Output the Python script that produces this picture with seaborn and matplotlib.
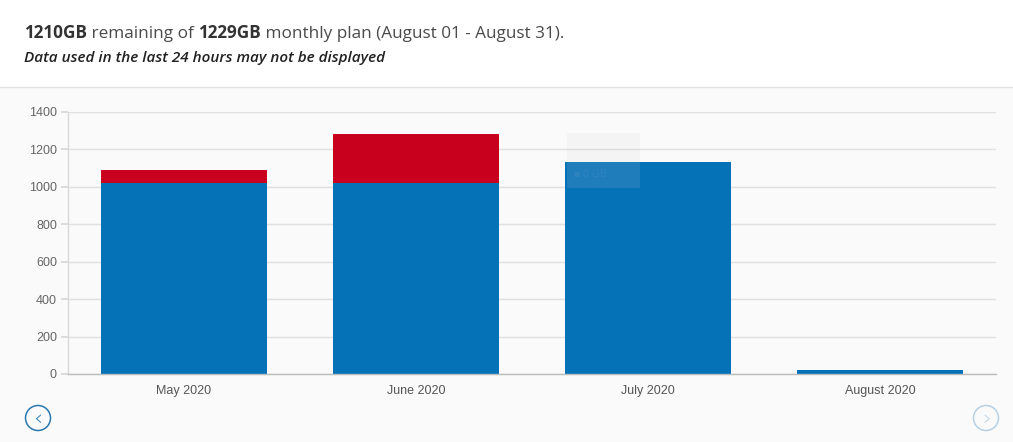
import matplotlib
matplotlib.use("Agg")
import matplotlib.pyplot as plt
import seaborn as sns
import pandas as pd
from matplotlib.patches import Rectangle, Circle
from matplotlib.lines import Line2D

months = ["May 2020", "June 2020", "July 2020", "August 2020"]
within_plan = [1021, 1021, 1133, 19]
overage = [69, 262, 0, 0]
y_ticks = [0, 200, 400, 600, 800, 1000, 1200, 1400]
title_parts = [("1210GB", "bold"), (" remaining of ", "normal"), ("1229GB", "bold"),
               (" monthly plan (August 01 - August 31).", "normal")]
subtitle = "Data used in the last 24 hours may not be displayed"

BLUE = "#0572b8"
RED = "#c8001e"

sns.set_theme(style="white")
plt.rcParams["font.family"] = ["Liberation Sans", "DejaVu Sans"]

W, H = 1013, 442
fig = plt.figure(figsize=(W / 100, H / 100), dpi=100)
fig.patch.set_facecolor("white")
# gray panel
fig.patches.append(Rectangle((0, 0), 1, (H - 87) / H, transform=fig.transFigure,
                             facecolor="#fafafa", edgecolor="none", zorder=-5))
fig.lines.append(Line2D([0, 1], [(H - 87) / H] * 2, transform=fig.transFigure,
                        color="#e2e2e2", lw=1, zorder=-4))

ax = fig.add_axes([68 / W, (H - 374) / H, (996 - 68) / W, (374 - 112) / H])
ax.set_zorder(1)
ax.set_facecolor("#fafafa")

df = pd.DataFrame({"month": months, "within": within_plan, "over": overage})
df["total"] = df["within"] + df["over"]

sns.barplot(data=df, x="month", y="total", color=RED, width=0.716, ax=ax,
            saturation=1, edgecolor="none", linewidth=0)
sns.barplot(data=df, x="month", y="within", color=BLUE, width=0.716, ax=ax,
            saturation=1, edgecolor="none", linewidth=0)

ax.set_ylim(0, 1400)
ax.set_xlim(-0.5, 3.5)
ax.set_yticks(y_ticks)
ax.set_yticklabels([str(t) for t in y_ticks])
ax.yaxis.grid(True, color="#e0e0e0", lw=1)
ax.set_axisbelow(True)
ax.set_xlabel("")
ax.set_ylabel("")
for s in ["top", "right"]:
    ax.spines[s].set_visible(False)
ax.spines["left"].set_color("#d8d8d8")
ax.spines["bottom"].set_color("#bbbbbb")
ax.spines["left"].set_linewidth(1)
ax.spines["bottom"].set_linewidth(1)
ax.tick_params(axis="y", length=5, color="#d8d8d8", labelsize=9, labelcolor="#666666", pad=3,
               left=True)
ax.tick_params(axis="x", length=0, labelsize=9, labelcolor="#555555", pad=8)

# faded tooltip
ax.add_patch(Rectangle((1.65, 994), 0.315, 294, facecolor="#cccccc", alpha=0.13,
                       edgecolor="none", zorder=5))
ax.text(1.68, 1055, "■ 0 GB", fontsize=7.5, color="#3b88c4", alpha=0.6, zorder=6)

# navigation arrows
for cx, col in [(38, "#2a78b0"), (986, "#b7d0e4")]:
    c = Circle((cx / 100, (H - 418) / 100), 0.125, transform=fig.dpi_scale_trans,
               facecolor="none", edgecolor=col, lw=1.1)
    fig.patches.append(c)
fig.text(37.5 / W, (H - 419) / H, "‹", ha="center", va="center", fontsize=16, color="#2a78b0",
         family="DejaVu Sans", fontweight="light")
fig.text(986.5 / W, (H - 419) / H, "›", ha="center", va="center", fontsize=16, color="#b7d0e4",
         family="DejaVu Sans", fontweight="light")

# title pieces
fig.canvas.draw()
renderer = fig.canvas.get_renderer()
x = 24 / W
for txt, wt in title_parts:
    t = fig.text(x, (H - 38) / H, txt, fontsize=12.3, fontweight=wt, family="Open Sans",
                 color="#333333" if wt == "bold" else "#4a4a4a", va="baseline")
    bb = t.get_window_extent(renderer=renderer)
    x = (bb.x1) / W
fig.text(24 / W, (H - 62) / H, subtitle, fontsize=11.0, style="italic", fontweight="semibold",
         family="Open Sans", color="#222222", va="baseline")

fig.savefig("out.png", dpi=100, facecolor=fig.get_facecolor())
